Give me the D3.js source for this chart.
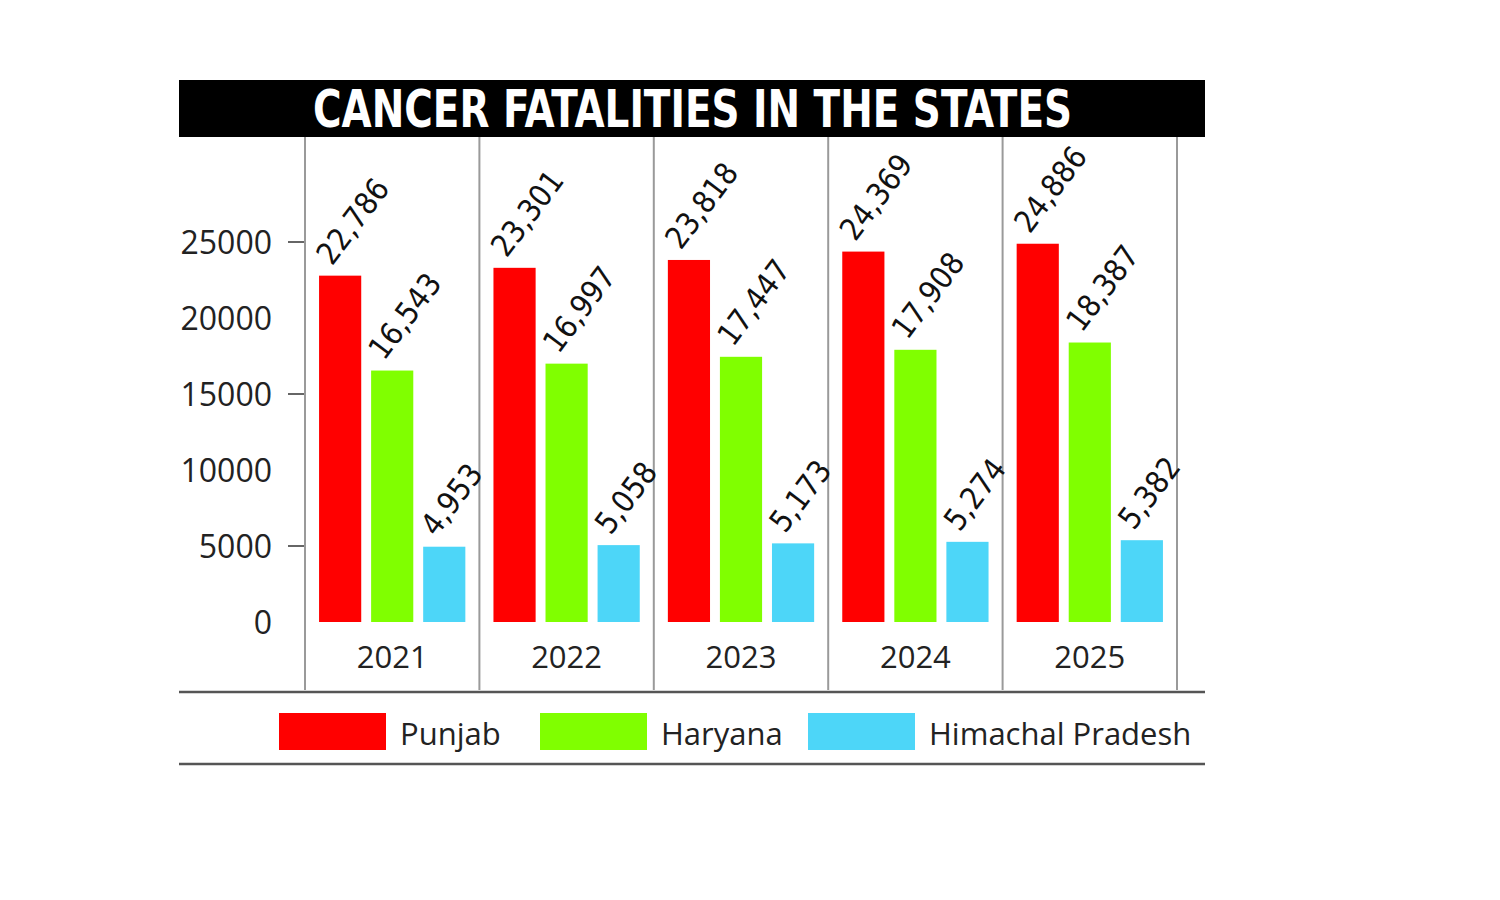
<!DOCTYPE html>
<html>
<head>
<meta charset="utf-8">
<script src="https://cdn.jsdelivr.net/npm/d3@7"></script>
<style>
  body { margin: 0; background: #fff; }
  svg { display: block; }
</style>
</head>
<body>
<svg id="chart" width="1500" height="900"></svg>
<script>
var years = ["2021", "2022", "2023", "2024", "2025"];
var states = ["Punjab", "Haryana", "Himachal Pradesh"];
var punjab = [22786, 23301, 23818, 24369, 24886];
var haryana = [16543, 16997, 17447, 17908, 18387];
var himachal = [4953, 5058, 5173, 5274, 5382];
var yTicks = [0, 5000, 10000, 15000, 20000, 25000];
var tickMarks = [5000, 15000, 25000];
var colors = ["#ff0000", "#80ff00", "#4dd6f8"];

var series = [punjab, haryana, himachal];

var svg = d3.select("#chart");

// title bar
svg.append("rect")
  .attr("x", 179).attr("y", 80)
  .attr("width", 1026).attr("height", 57)
  .attr("fill", "#000");

svg.append("text")
  .attr("x", 313).attr("y", 127)
  .attr("textLength", 759)
  .attr("lengthAdjust", "spacingAndGlyphs")
  .style("font-family", "'DejaVu Sans Condensed', 'DejaVu Sans', sans-serif")
  .style("font-weight", "bold")
  .style("font-size", "52px")
  .attr("fill", "#fff")
  .text("CANCER FATALITIES IN THE STATES");

// scales
var x = d3.scaleBand().domain(years).range([305, 1177]);
var xInner = d3.scaleBand().domain(states)
  .range([0, x.bandwidth()])
  .paddingInner(0.19).paddingOuter(0.27);
var y = d3.scaleLinear().domain([0, 25000]).range([622, 242]);

// group separators
var seps = years.map((d) => x(d)).concat([x(years[years.length - 1]) + x.bandwidth()]);
svg.selectAll("line.sep")
  .data(seps)
  .enter().append("line")
  .attr("class", "sep")
  .attr("x1", (d) => d).attr("x2", (d) => d)
  .attr("y1", 137).attr("y2", 690)
  .attr("stroke", "#9a9a9a")
  .attr("stroke-width", 2);

// y axis labels
svg.selectAll("text.ytick")
  .data(yTicks)
  .enter().append("text")
  .attr("class", "ytick")
  .attr("x", 272)
  .attr("y", (d) => y(d))
  .attr("dy", "0.36em")
  .attr("text-anchor", "end")
  .style("font-family", "'Open Sans', sans-serif")
  .style("font-size", "32px")
  .attr("fill", "#222")
  .text((d) => d);

svg.selectAll("line.ytick")
  .data(tickMarks)
  .enter().append("line")
  .attr("class", "ytick")
  .attr("x1", 288).attr("x2", 304)
  .attr("y1", (d) => y(d)).attr("y2", (d) => y(d))
  .attr("stroke", "#333")
  .attr("stroke-width", 1.5);

// bars
var groups = svg.selectAll("g.year")
  .data(years)
  .enter().append("g")
  .attr("class", "year")
  .attr("transform", (d) => "translate(" + x(d) + ",0)");

groups.each(function (yr, i) {
  var g = d3.select(this);
  var vals = states.map((s, j) => ({ state: s, value: series[j][i], color: colors[j] }));

  g.selectAll("rect")
    .data(vals)
    .enter().append("rect")
    .attr("x", (d) => xInner(d.state))
    .attr("y", (d) => y(d.value))
    .attr("width", xInner.bandwidth())
    .attr("height", (d) => y(0) - y(d.value))
    .attr("fill", (d) => d.color);

  g.selectAll("text.val")
    .data(vals)
    .enter().append("text")
    .attr("class", "val")
    .attr("transform", (d) => "translate(" + (xInner(d.state) + 13) + "," + (y(d.value) - 9) + ") rotate(-53)")
    .style("font-family", "'DejaVu Sans Condensed', 'DejaVu Sans', sans-serif")
    .style("font-size", "31px")
    .attr("fill", "#111")
    .text((d) => d3.format(",")(d.value));

  g.append("text")
    .attr("x", x.bandwidth() / 2)
    .attr("y", 668)
    .attr("text-anchor", "middle")
    .style("font-family", "'Open Sans', sans-serif")
    .style("font-size", "31px")
    .attr("fill", "#222")
    .text(yr);
});

// legend rules
[692, 764].forEach((yy) => {
  svg.append("line")
    .attr("x1", 179).attr("x2", 1205)
    .attr("y1", yy).attr("y2", yy)
    .attr("stroke", "#555")
    .attr("stroke-width", 2.5);
});

// legend
var legendX = [279, 540, 808];
var legend = svg.selectAll("g.legend")
  .data(states)
  .enter().append("g")
  .attr("class", "legend")
  .attr("transform", (d, i) => "translate(" + legendX[i] + ",713)");

legend.append("rect")
  .attr("width", 107).attr("height", 37)
  .attr("fill", (d, i) => colors[i]);

legend.append("text")
  .attr("x", 121)
  .attr("y", 32)
  .style("font-family", "'Open Sans', sans-serif")
  .style("font-size", "31px")
  .attr("fill", "#222")
  .text((d) => d);
</script>
</body>
</html>
